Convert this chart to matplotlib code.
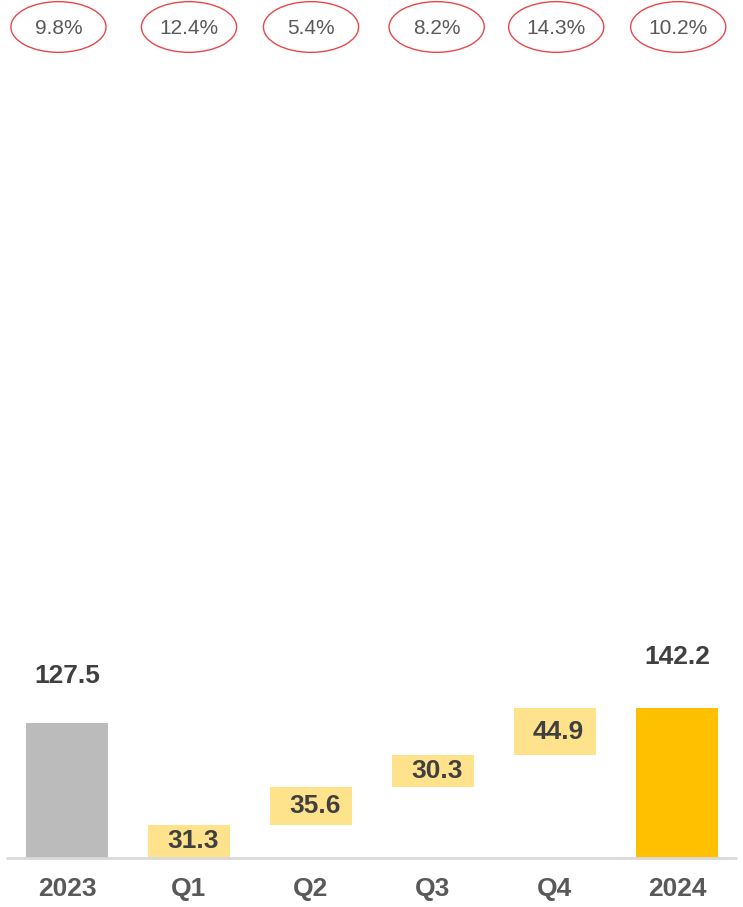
import numpy as np
import matplotlib
matplotlib.use("Agg")
import matplotlib.pyplot as plt
from matplotlib.patches import Ellipse

plt.rcParams["font.family"] = ["Liberation Sans", "DejaVu Sans"]

# data
categories = ["2023", "Q1", "Q2", "Q3", "Q4", "2024"]
start_total = 127.5
quarter_values = [31.3, 35.6, 30.3, 44.9]
end_total = 142.2
growth_pct = ["9.8%", "12.4%", "5.4%", "8.2%", "14.3%", "10.2%"]

GRAY = "#BBBBBB"
GOLD = "#FFC000"
LIGHT = "#FFE38C"
TEXT_DARK = "#404040"
TEXT_MID = "#595959"
RED = "#E8474A"

fig = plt.figure(figsize=(7.43, 9.07), dpi=100)
ax = fig.add_axes([0, 0, 1, 1])
# map data units to the pixel grid of the reference (122 px per category, 1.056 px per unit)
ax.set_xlim(-67 / 122, (743 - 67) / 122)
ax.set_ylim(-49 / 1.056, 858 / 1.056)
ax.axis("off")

x = np.arange(len(categories))
width = 0.672

# totals
ax.bar(x[0], start_total, width, color=GRAY)
ax.bar(x[-1], end_total, width, color=GOLD)

# floating quarterly steps
bottoms = np.concatenate([[0], np.cumsum(quarter_values)[:-1]])
ax.bar(x[1:5], quarter_values, width, bottom=bottoms, color=LIGHT)

for xi, b, v in zip(x[1:5], bottoms, quarter_values):
    ax.text(xi + 0.03, b + v / 2, f"{v:.1f}", ha="center", va="center",
            fontsize=19, fontweight="bold", color=TEXT_DARK)

ax.text(x[0], start_total + 45, f"{start_total:.1f}", ha="center", va="center",
        fontsize=19, fontweight="bold", color=TEXT_DARK)
ax.text(x[-1], end_total + 48, f"{end_total:.1f}", ha="center", va="center",
        fontsize=19, fontweight="bold", color=TEXT_DARK)

# baseline
ax.plot([-0.5, 5.49], [0, 0], color="#D9D9D9", lw=2, solid_capstyle="butt")

# category labels
for xi, c in zip(x, categories):
    ax.text(xi, -29, c, ha="center", va="center", fontsize=19,
            fontweight="bold", color=TEXT_MID)

# growth ellipses at top
ell_y = (907 - 27 - 49) / 1.056
ell_dx = [-0.07, 0, 0, 0.03, 0.01, 0.01]
for xi, p, dx in zip(x, growth_pct, ell_dx):
    ax.add_patch(Ellipse((xi + dx, ell_y), 0.78, 48, fill=False,
                         edgecolor=RED, lw=1.0))
    ax.text(xi + dx, ell_y - 1, p, ha="center", va="center",
            fontsize=15, color=TEXT_MID)

fig.savefig("out.png", dpi=100)
